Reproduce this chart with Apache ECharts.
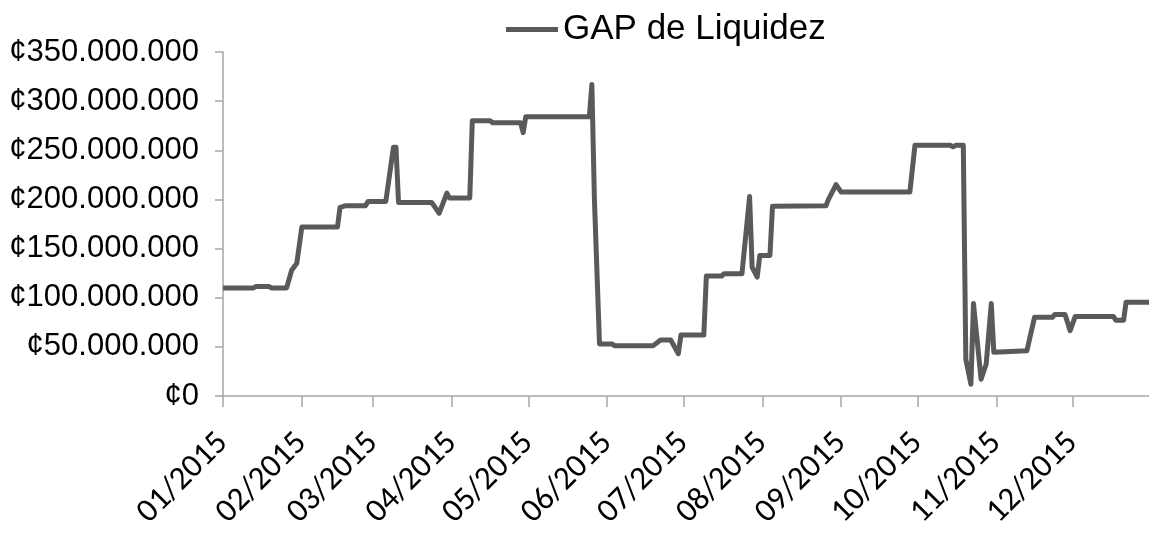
<!DOCTYPE html>
<html>
    <head>
        <meta http-equiv="Content-Type" content="text/html; charset=utf-8" />
        <title>GAP de Liquidez</title>
        <script type="text/javascript" src="https://cdn.jsdelivr.net/npm/echarts@6/dist/echarts.min.js"></script>
        <style>
            html, body { margin: 0; padding: 0; background: #fff; }
        </style>
    </head>
    <body>
        <div style="width:1149px;height:535px;" id="gap"></div>
        <script type="text/javascript">
            // fechas de cada cambio de nivel (vertices de la linea)
            var fechas = [
                '2015-01-01', '2015-01-13', '2015-01-14', '2015-01-19', '2015-01-20', '2015-01-26',
                '2015-01-28', '2015-01-30', '2015-02-01', '2015-02-15', '2015-02-16', '2015-02-18',
                '2015-02-26', '2015-02-27', '2015-03-06', '2015-03-09', '2015-03-10', '2015-03-11',
                '2015-03-24', '2015-03-27', '2015-03-30', '2015-03-31', '2015-04-08', '2015-04-09',
                '2015-04-16', '2015-04-17', '2015-04-28', '2015-04-29', '2015-04-30', '2015-05-25',
                '2015-05-26', '2015-05-27', '2015-05-29', '2015-06-03', '2015-06-04', '2015-06-19',
                '2015-06-22', '2015-06-26', '2015-06-29', '2015-06-30', '2015-07-09', '2015-07-10',
                '2015-07-16', '2015-07-17', '2015-07-24', '2015-07-27', '2015-07-28', '2015-07-30',
                '2015-07-31', '2015-08-04', '2015-08-05', '2015-08-26', '2015-08-27', '2015-08-30',
                '2015-09-01', '2015-09-28', '2015-09-30', '2015-10-14', '2015-10-15', '2015-10-16',
                '2015-10-19', '2015-10-20', '2015-10-22', '2015-10-23', '2015-10-26', '2015-10-28',
                '2015-10-30', '2015-10-31', '2015-11-13', '2015-11-16', '2015-11-23', '2015-11-24',
                '2015-11-28', '2015-11-30', '2015-12-02', '2015-12-17', '2015-12-18', '2015-12-21',
                '2015-12-22', '2015-12-31'
            ];
            // GAP en millones de colones
            var gapMillones = [
                110, 110, 111.5, 111.5, 110, 110,
                128, 135, 172, 172, 192, 193.5,
                193.5, 198, 198, 253, 253, 197,
                197, 186, 206.5, 201.5, 201.5, 280,
                280, 278, 278, 268, 284, 284,
                317, 200, 53, 53, 51, 51,
                57, 57, 43, 62, 62, 122,
                122, 124.5, 124.5, 203, 131, 121,
                143, 143, 193, 193.5, 200, 215,
                207.5, 207.5, 255, 255, 253.5, 255,
                255, 37.5, 12, 94, 17, 32.5,
                94, 44.5, 46, 80, 80, 83,
                83, 66.5, 81, 81, 77, 77,
                95.5, 95.5
            ];
            var meses = [
                '2015-01-01', '2015-02-01', '2015-03-01', '2015-04-01', '2015-05-01', '2015-06-01',
                '2015-07-01', '2015-08-01', '2015-09-01', '2015-10-01', '2015-11-01', '2015-12-01'
            ];
            var nombreSerie = 'GAP de Liquidez';

            function ts(s) {
                var p = s.split('-');
                return new Date(+p[0], +p[1] - 1, +p[2]).getTime();
            }
            var mesesTs = meses.map(ts);

            var myChart = echarts.init(document.getElementById('gap'));
            var option = {
                animation: false,
                backgroundColor: '#ffffff',
                legend: {
                    left: 501,
                    top: 7,
                    icon: 'rect',
                    itemWidth: 52,
                    itemHeight: 5,
                    itemGap: 0,
                    textStyle: {
                        color: '#000',
                        fontSize: 35,
                        fontFamily: '"Liberation Sans", Arial, sans-serif'
                    },
                    data: [nombreSerie]
                },
                grid: {
                    left: 223,
                    right: 0,
                    top: 52,
                    bottom: 139
                },
                xAxis: {
                    // eje numerico con marcas de tiempo, marcas al inicio de cada mes
                    type: 'value',
                    min: ts('2015-01-01'),
                    max: ts('2015-12-31'),
                    axisLine: { lineStyle: { color: '#a6a6a6', width: 1.5 } },
                    axisTick: {
                        show: true,
                        length: 11,
                        customValues: mesesTs,
                        lineStyle: { color: '#a6a6a6', width: 1.5 }
                    },
                    splitLine: { show: false },
                    axisLabel: {
                        customValues: mesesTs,
                        rotate: 45,
                        margin: 42,
                        color: '#000',
                        fontSize: 33,
                        fontFamily: 'Carlito, Calibri, "Open Sans", sans-serif',
                        formatter: function (v) {
                            var d = new Date(v);
                            var m = d.getMonth() + 1;
                            return (m < 10 ? '0' + m : m) + '/' + d.getFullYear();
                        }
                    }
                },
                yAxis: {
                    type: 'value',
                    min: 0,
                    max: 350000000,
                    interval: 50000000,
                    axisLine: { show: true, lineStyle: { color: '#a6a6a6', width: 1.5 } },
                    axisTick: { show: true, length: 8, lineStyle: { color: '#a6a6a6', width: 1.5 } },
                    splitLine: { show: false },
                    axisLabel: {
                        margin: 24,
                        color: '#000',
                        fontSize: 31,
                        fontFamily: '"Liberation Sans", Arial, sans-serif',
                        formatter: function (v) {
                            return '¢' + String(v).replace(/\B(?=(\d{3})+(?!\d))/g, '.');
                        }
                    }
                },
                series: [{
                    name: nombreSerie,
                    type: 'line',
                    showSymbol: false,
                    color: '#5a5a5a',
                    lineStyle: { color: '#5a5a5a', width: 5, join: 'round' },
                    data: fechas.map(function (f, i) {
                        return [ts(f), gapMillones[i] * 1000000];
                    })
                }]
            };
            myChart.setOption(option);
        </script>
    </body>
</html>
